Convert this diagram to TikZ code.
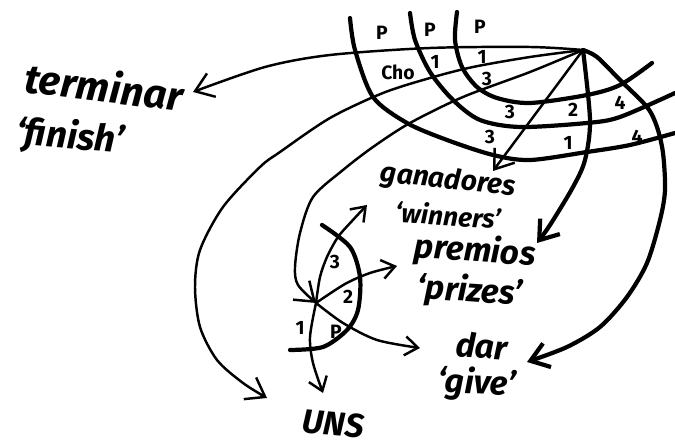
\documentclass[tikz,border=0pt]{standalone}
\usepackage{fontspec}
\setmainfont{Fira Sans}
\usetikzlibrary{arrows.meta}

\begin{document}
\begin{tikzpicture}[x=0.02cm,y=-0.02cm,line cap=round,line join=round,
        rel/.style={line width=1.4pt},
        stratum/.style={line width=2.4pt},
        barb/.style={-{Straight Barb[length=3.5mm,width=5mm]}},
        small barb/.style={-{Straight Barb[length=2.6mm,width=3.8mm]}},
        word/.style={font=\bfseries\itshape\fontsize{19}{19}\selectfont,inner sep=0pt},
        gloss/.style={font=\bfseries\itshape\fontsize{15}{15}\selectfont,inner sep=0pt},
        num/.style={font=\bfseries\fontsize{11}{11}\selectfont,inner sep=0pt}]
    \useasboundingbox (0,0) rectangle (675,448);

    % the two clause nodes
    \coordinate (top) at (583,50);
    \coordinate (low) at (316,303);

    % words
    \node[word,font=\bfseries\itshape\fontsize{23}{23}\selectfont,rotate=-7] (terminar) at (104,86) {terminar};
    \node[word,font=\bfseries\itshape\fontsize{21}{21}\selectfont,rotate=-5] (finish) at (70,138) {`finish'};
    \node[gloss,font=\bfseries\itshape\fontsize{16}{16}\selectfont,rotate=-6] (ganadores) at (448,181) {ganadores};
    \node[gloss,rotate=-4] (winners) at (448,215) {`winners'};
    \node[word,rotate=-4] (premios) at (475,252) {premios};
    \node[word,rotate=-4] (prizes) at (470,292) {`prizes'};
    \node[word,rotate=-4] (dar) at (482,346) {dar};
    \node[word,rotate=-3] (give) at (477,384) {`give'};
    \node[word,rotate=-5] (uns) at (333,424) {UNS};

    % arrow ends
    \coordinate (terminar tip) at (193,92);
    \coordinate (uns tip) at (267,398);
    \coordinate (ganadores tip) at (493,171);
    \coordinate (premios tip) at (537,243);
    \coordinate (dar tip) at (527,362);
    \coordinate (winners tip) at (367,205);
    \coordinate (prizes tip) at (397,266);
    \coordinate (give tip) at (420,348);
    \coordinate (low uns tip) at (323,393);

    % strata
    \draw[stratum] plot[smooth] coordinates {(350,18) (355,50) (373,97) (407,123) (447,140)
        (493,155) (530,160) (587,152) (630,145) (675,133)};
    \draw[stratum] plot[smooth] coordinates {(410,13) (415,40) (430,72) (453,100) (480,120)
        (520,127) (587,123) (620,117) (675,93)};
    \draw[stratum] plot[smooth] coordinates {(457,12) (455,40) (462,67) (477,87) (497,98)
        (530,103) (587,95) (620,85) (652,63)};

    % arcs of the upper clause
    \draw[rel,barb] plot[smooth] coordinates {(top) (530,47) (430,48) (330,55) (265,67) (terminar tip)};
    \draw[rel,barb] plot[smooth] coordinates {(top) (530,57) (473,67) (430,78) (383,93) (330,118)
        (280,152) (260,167) (223,207) (200,250) (195,287) (200,327) (217,360) (243,383) (uns tip)};
    \draw[rel,barb] plot[smooth] coordinates {(top) (530,72) (463,97) (410,123) (373,147) (343,170)
        (313,197) (300,233) (295,267) (298,285) (low)};
    \draw[rel,barb] (top) -- (ganadores tip);
    \draw[stratum,barb] plot[smooth] coordinates {(top) (590,120) (585,160) (573,187) (550,225) (premios tip)};
    \draw[stratum,barb] plot[smooth] coordinates {(top) (597,57) (620,80) (647,107) (657,127) (663,153)
        (665,190) (660,220) (647,263) (627,297) (600,327) (567,347) (dar tip)};

    % arcs of the lower clause
    \draw[rel,small barb] plot[smooth] coordinates {(low) (320,277) (327,257) (338,237) (352,221) (winners tip)};
    \draw[rel,small barb] plot[smooth] coordinates {(low) (345,284) (370,273) (prizes tip)};
    \draw[rel,small barb] plot[smooth] coordinates {(low) (343,323) (377,340) (give tip)};
    \draw[rel,small barb] plot[smooth] coordinates {(low) (310,337) (313,363) (low uns tip)};
    \draw[stratum] plot[smooth] coordinates {(322,225) (350,247) (360,277) (358,310) (347,330)
        (323,347) (290,350)};

    % relation labels
    \node[num] (p1) at (382,33) {P};
    \node[num] (p2) at (430,30) {P};
    \node[num] (p3) at (480,27) {P};
    \node[num] (cho) at (398,72) {Cho};
    \node[num] (a1) at (435,62) {1};
    \node[num] (b1) at (482,57) {1};
    \node[num] (b3) at (487,79) {3};
    \node[num] (c3) at (510,112) {3};
    \node[num] (d3) at (490,137) {3};
    \node[num] (c2) at (573,110) {2};
    \node[num] (d1) at (568,143) {1};
    \node[num] (c4) at (620,103) {4};
    \node[num] (d4) at (637,137) {4};
    \node[num] (l3) at (335,262) {3};
    \node[num] (l2) at (348,297) {2};
    \node[num] (lp) at (336,332) {P};
    \node[num] (l1) at (300,328) {1};
\end{tikzpicture}
\end{document}
